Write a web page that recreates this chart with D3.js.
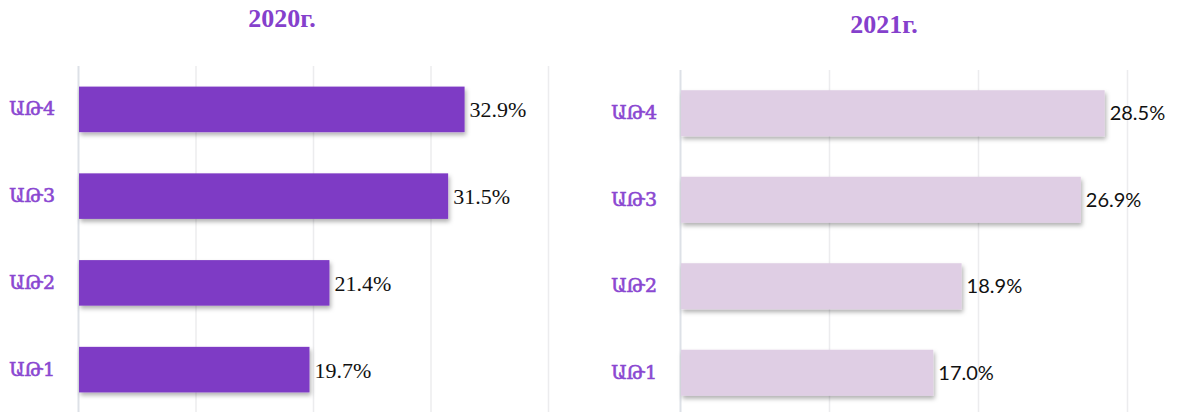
<!DOCTYPE html>
<html>
<head>
<meta charset="utf-8">
<script src="https://cdn.jsdelivr.net/npm/d3@7"></script>
<style>
    body { margin: 0; background: #fff; }
    svg { display: block; }
</style>
</head>
<body>
<div id="chart-area"></div>
<script>
// data
const categories = ['ԱԹ4', 'ԱԹ3', 'ԱԹ2', 'ԱԹ1'];
const values2020 = [32.9, 31.5, 21.4, 19.7];
const values2021 = [28.5, 26.9, 18.9, 17.0];
const titles = ['2020г.', '2021г.'];
const ticks2020 = [0, 10, 20, 30, 40];
const ticks2021 = [0, 10, 20, 30];

const width = 1178;
const height = 412;

const svg = d3.select('#chart-area')
    .append('svg')
        .attr('width', width)
        .attr('height', height);

// soft shadow under bars
const defs = svg.append('defs');
defs.append('filter')
    .attr('id', 'shadow')
    .attr('x', '-5%').attr('y', '-20%')
    .attr('width', '115%').attr('height', '150%')
    .append('feDropShadow')
        .attr('dx', 1.5)
        .attr('dy', 3)
        .attr('stdDeviation', 2)
        .attr('flood-color', '#000')
        .attr('flood-opacity', 0.3);

// panel layouts
const panels = [
    {
        title: titles[0], values: values2020, ticks: ticks2020,
        xRange: [78, 548], yRange: [66, 413], inner: 0.475,
        titleX: 282, titleY: 27,
        fill: '#7e3ac5',
        valueFont: "'Liberation Serif', 'Times New Roman', Tinos, serif", valueSize: '22px'
    },
    {
        title: titles[1], values: values2021, ticks: ticks2021,
        xRange: [680, 1127], yRange: [70, 416], inner: 0.468,
        titleX: 884, titleY: 33,
        fill: '#dfcee4',
        valueFont: "Lato, sans-serif", valueSize: '20px'
    }
];

panels.forEach(p => {
    const g = svg.append('g');
    const data = categories.map((c, i) => ({ cat: c, value: p.values[i] }));

    const x = d3.scaleLinear()
        .domain([0, d3.max(p.ticks)])
        .range(p.xRange);

    const y = d3.scaleBand()
        .domain(categories)
        .range(p.yRange)
        .paddingInner(p.inner)
        .paddingOuter(p.inner / 2);

    // gridlines
    const grid = g.append('g')
        .attr('class', 'grid')
        .attr('transform', `translate(0, ${p.yRange[0]})`)
        .call(d3.axisBottom(x)
            .tickValues(p.ticks)
            .tickSize(height - p.yRange[0])
            .tickFormat(''));
    grid.select('.domain').remove();
    grid.selectAll('.tick line')
        .attr('stroke', (d, i) => i === 0 ? '#dde1e7' : '#ececee')
        .attr('stroke-width', (d, i) => i === 0 ? 2 : 1.5);

    // category labels
    const yAxis = g.append('g')
        .attr('class', 'y axis')
        .attr('transform', `translate(${x(0)}, 0)`)
        .call(d3.axisLeft(y).tickSize(0).tickPadding(23));
    yAxis.select('.domain').remove();
    yAxis.selectAll('text')
        .attr('fill', '#8a47d1')
        .attr('stroke', '#8a47d1')
        .attr('stroke-width', 0.6)
        .style('font-family', "'DejaVu Serif', serif")
        .style('font-size', '19px');

    // bars
    g.selectAll('rect.bar')
        .data(data)
        .enter()
            .append('rect')
                .attr('class', 'bar')
                .attr('x', x(0) + 1)
                .attr('y', d => y(d.cat))
                .attr('width', d => x(d.value) - x(0) - 1)
                .attr('height', y.bandwidth())
                .attr('fill', p.fill)
                .attr('filter', 'url(#shadow)');

    // value labels
    g.selectAll('text.value')
        .data(data)
        .enter()
            .append('text')
                .attr('class', 'value')
                .attr('x', d => x(d.value) + 5)
                .attr('y', d => y(d.cat) + y.bandwidth() / 2)
                .attr('dy', '0.36em')
                .style('font-family', p.valueFont)
                .style('font-size', p.valueSize)
                .attr('fill', '#111')
                .text(d => d.value.toFixed(1) + '%');

    // title
    g.append('text')
        .attr('x', p.titleX)
        .attr('y', p.titleY)
        .attr('text-anchor', 'middle')
        .style('font-family', "'Liberation Serif', serif")
        .style('font-weight', 'bold')
        .style('font-size', '26px')
        .attr('fill', '#8540cc')
        .text(p.title);
});
</script>
</body>
</html>
